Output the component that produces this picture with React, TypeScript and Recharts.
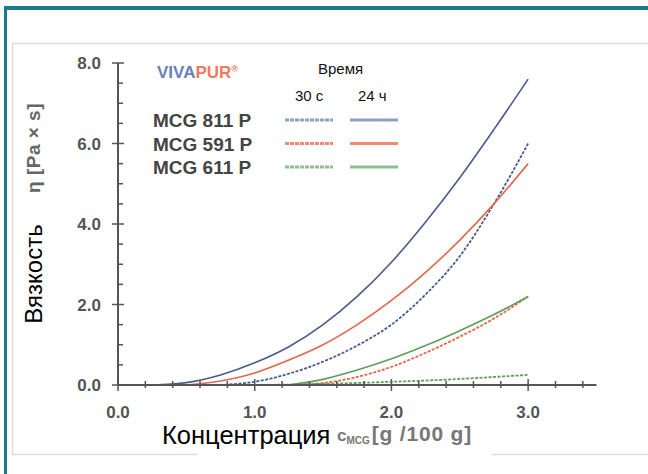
import { LineChart, Line, XAxis, YAxis } from 'recharts'

// concentration c_MCG [g/100 g] and viscosity η [Pa·s]
const concentration = [0, 0.25, 0.5, 0.75, 1, 1.25, 1.5, 1.75, 2, 2.25, 2.5, 2.75, 3]
const mcg811_24h = [null, 0, 0.06, 0.25, 0.55, 0.95, 1.5, 2.2, 3.05, 4.05, 5.15, 6.35, 7.6]
const mcg811_30s = [null, null, null, 0, 0.08, 0.28, 0.58, 0.98, 1.5, 2.25, 3.2, 4.5, 6.0]
const mcg591_24h = [null, null, 0, 0.1, 0.3, 0.62, 1.0, 1.5, 2.1, 2.8, 3.6, 4.5, 5.5]
const mcg591_30s = [null, null, null, null, null, 0, 0.05, 0.2, 0.45, 0.8, 1.2, 1.65, 2.2]
const mcg611_24h = [null, null, null, null, null, 0, 0.14, 0.37, 0.65, 0.98, 1.35, 1.75, 2.2]
const mcg611_30s = [null, null, null, null, 0, 0.01, 0.03, 0.05, 0.08, 0.11, 0.15, 0.2, 0.25]

const xTicks = [0, 0.2, 0.4, 0.6, 0.8, 1, 1.2, 1.4, 1.6, 1.8, 2, 2.2, 2.4, 2.6, 2.8, 3, 3.2, 3.4]
const yTicks = [0, 0.5, 1, 1.5, 2, 2.5, 3, 3.5, 4, 4.5, 5, 5.5, 6, 6.5, 7, 7.5, 8]
const yLabelled = [0, 2, 4, 6, 8]

const products = ['MCG 811 P', 'MCG 591 P', 'MCG 611 P']

const data = concentration.map((c, i) => ({
  c,
  b24: mcg811_24h[i],
  b30: mcg811_30s[i],
  r24: mcg591_24h[i],
  r30: mcg591_30s[i],
  g24: mcg611_24h[i],
  g30: mcg611_30s[i],
}))

const BLUE = '#4a5a8e'
const RED = '#e3674c'
const GREEN = '#5f9f5b'
const LEG = ['#8ea0c6', '#f08b72', '#8dbe8b']

const series = [
  { key: 'b24', color: BLUE, dashed: false },
  { key: 'b30', color: BLUE, dashed: true },
  { key: 'r24', color: RED, dashed: false },
  { key: 'r30', color: RED, dashed: true },
  { key: 'g24', color: GREEN, dashed: false },
  { key: 'g30', color: GREEN, dashed: true },
]

const FONT = '"Liberation Sans", Arial, sans-serif'
const AXIS = '#555'

function XTick(props: any) {
  const { x, y, payload } = props
  const major = Number.isInteger(payload.value)
  return (
    <g>
      <line
        x1={x}
        x2={x}
        y1={major ? y - 6 : y - 4}
        y2={major ? y + 6 : y + 3}
        stroke={AXIS}
        strokeWidth={1.5}
      />
      {major && (
        <text
          x={x}
          y={y + 33}
          textAnchor="middle"
          fontFamily={FONT}
          fontWeight="bold"
          fontSize={17}
          fill={AXIS}
        >
          {payload.value.toFixed(1)}
        </text>
      )}
    </g>
  )
}

function YTick(props: any) {
  const { x, y, payload } = props
  const major = yLabelled.includes(payload.value)
  return (
    <g>
      <line
        x1={major ? x - 6 : x}
        x2={major ? x + 6 : x + 5}
        y1={y}
        y2={y}
        stroke={AXIS}
        strokeWidth={1.5}
      />
      {major && (
        <text
          x={x - 17}
          y={y + 6}
          textAnchor="end"
          fontFamily={FONT}
          fontWeight="bold"
          fontSize={17}
          fill={AXIS}
        >
          {payload.value.toFixed(1)}
        </text>
      )}
    </g>
  )
}

export default function App() {
  return (
    <div style={{ position: 'absolute', left: 0, top: 0, width: 648, height: 474, background: '#fff' }}>
      {/* frame */}
      <svg width={648} height={474} style={{ position: 'absolute', left: 0, top: 0 }}>
        <rect x={4} y={6} width={644} height={4} fill="#1c7b8c" />
        <rect x={4} y={6} width={3} height={468} fill="#1c7b8c" />
        <line x1={12} x2={648} y1={43.5} y2={43.5} stroke="#dcdcdc" strokeWidth={1.5} />
        <line x1={12.5} x2={12.5} y1={43} y2={455} stroke="#dcdcdc" strokeWidth={1.5} />
        <line x1={12} x2={197} y1={454.5} y2={454.5} stroke="#dcdcdc" strokeWidth={1.5} />
        <line x1={492} x2={648} y1={454.5} y2={454.5} stroke="#dcdcdc" strokeWidth={1.5} />
      </svg>

      <div style={{ position: 'absolute', left: 0, top: 0 }}>
        <LineChart
          width={648}
          height={474}
          data={data}
          margin={{ top: 63, right: 51.5, bottom: 69, left: 98 }}
        >
          <XAxis
            dataKey="c"
            type="number"
            domain={[0, 3.5]}
            ticks={xTicks}
            interval={0}
            height={20}
            tickSize={0}
            tickMargin={0}
            tickLine={false}
            tick={<XTick />}
            axisLine={{ stroke: AXIS, strokeWidth: 2 }}
            allowDataOverflow
          />
          <YAxis
            type="number"
            domain={[0, 8]}
            ticks={yTicks}
            interval={0}
            width={20}
            tickSize={0}
            tickMargin={0}
            tickLine={false}
            tick={<YTick />}
            axisLine={{ stroke: AXIS, strokeWidth: 2 }}
          />
          {series.map((s) => (
            <Line
              key={s.key}
              dataKey={s.key}
              type="monotone"
              stroke={s.color}
              strokeWidth={s.dashed ? 1.8 : 1.6}
              strokeDasharray={s.dashed ? '3 1.5' : undefined}
              dot={false}
              activeDot={false}
              isAnimationActive={false}
            />
          ))}
        </LineChart>
      </div>

      {/* titles and legend */}
      <svg width={648} height={474} style={{ position: 'absolute', left: 0, top: 0, pointerEvents: 'none' }}>
        <g fontFamily={FONT}>
          <text transform="rotate(-90 33 274)" x={33} y={274} textAnchor="middle" dominantBaseline="central" fontSize={24} fill="#000">
            Вязкость
          </text>
          <text transform="rotate(-90 33 148)" x={33} y={148} textAnchor="middle" dominantBaseline="central" fontSize={19} fontWeight="bold" fill="#666" letterSpacing={0.5}>
            η [Pa × s]
          </text>

          <text x={162} y={444} fontSize={25.5} fill="#000">Концентрация</text>
          <text x={337} y={441} fontSize={17} fill="#777" fontWeight="bold">
            c
            <tspan fontSize={10} dy={3}>MCG</tspan>
            <tspan fontSize={21} dy={-3} dx={2} letterSpacing={0.8}>[g /100 g]</tspan>
          </text>

          <text x={157} y={78} fontSize={17} fontWeight="bold">
            <tspan fill="#6b7fb8">VIVA</tspan>
            <tspan fill="#ee7a5f">PUR</tspan>
            <tspan fill="#ee7a5f" fontSize={9} dy={-6}>®</tspan>
          </text>
          <text x={318} y={74} fontSize={15} fill="#111">Время</text>
          <text x={295} y={101} fontSize={15} fill="#111">30 с</text>
          <text x={358} y={101} fontSize={15} fill="#111">24 ч</text>

          {products.map((p, i) => {
            const cy = 120 + i * 23.5
            return (
              <g key={p}>
                <text x={153} y={cy + 7} fontSize={19} fontWeight="bold" fill="#444">{p}</text>
                <line x1={285} x2={333} y1={cy} y2={cy} stroke={LEG[i]} strokeWidth={3} strokeDasharray="4 1" />
                <line x1={350} x2={398} y1={cy} y2={cy} stroke={LEG[i]} strokeWidth={3} />
              </g>
            )
          })}
        </g>
      </svg>
    </div>
  )
}
